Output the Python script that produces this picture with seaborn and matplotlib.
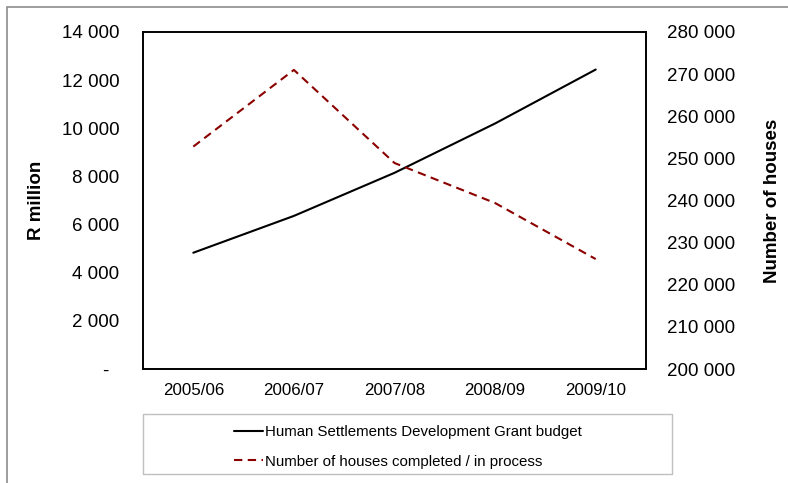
import numpy as np
import pandas as pd
import matplotlib
matplotlib.use('Agg')
import matplotlib.pyplot as plt
from matplotlib.patches import Rectangle
from matplotlib.ticker import FuncFormatter
import seaborn as sns

# Data
years = ['2005/06', '2006/07', '2007/08', '2008/09', '2009/10']
grant_budget = [4830, 6360, 8150, 10200, 12440]          # R million
houses = [252800, 271000, 248900, 239400, 226100]       # number of houses

df = pd.DataFrame({'Year': years, 'Budget': grant_budget, 'Houses': houses})
df['pos'] = np.arange(len(years))

sns.set_style('white')
plt.rcParams['font.family'] = ['Liberation Sans', 'DejaVu Sans']
plt.rcParams['text.color'] = 'black'
plt.rcParams['axes.labelcolor'] = 'black'
plt.rcParams['xtick.color'] = 'black'
plt.rcParams['ytick.color'] = 'black'

fig = plt.figure(figsize=(7.88, 4.83), dpi=100)
W, H = 788, 483
ax = fig.add_axes([143 / W, 1 - 369 / H, (646 - 143) / W, (369 - 32) / H])
ax2 = ax.twinx()

sns.lineplot(data=df, x='pos', y='Budget', ax=ax, color='black', linewidth=1.5,
             label='Human Settlements Development Grant budget', legend=False)
sns.lineplot(data=df, x='pos', y='Houses', ax=ax2, color='#8B0000', linewidth=1.5,
             dashes=False, label='Number of houses completed / in process', legend=False)
ax2.lines[0].set_dashes((4, 2.6))

ax.set_xlim(-0.5, len(years) - 0.5)
ax.set_xticks(df['pos'])
ax.set_xticklabels(years)
ax.set_ylim(0, 14000)
ax.set_yticks(np.arange(0, 14001, 2000))
ax2.set_ylim(200000, 280000)
ax2.set_yticks(np.arange(200000, 280001, 10000))


def space_fmt(v, pos):
    if v == 0:
        return '-  '
    return f'{int(v):,}'.replace(',', ' ')


ax.yaxis.set_major_formatter(FuncFormatter(space_fmt))
ax2.yaxis.set_major_formatter(FuncFormatter(space_fmt))

ax.tick_params(axis='y', length=0, pad=17, labelsize=13.5)
ax.tick_params(axis='x', length=0, pad=10, labelsize=12.2)
ax2.tick_params(axis='y', length=0, pad=15, labelsize=13.5)

ax.set_xlabel('')
ax.set_ylabel('R million', fontsize=13.5, fontweight='bold', labelpad=12)
ax2.set_ylabel('Number of houses', fontsize=13.5, fontweight='bold', labelpad=21)

for a in (ax, ax2):
    for s in a.spines.values():
        s.set_color('black')
        s.set_linewidth(1.2)

# Legend below, in its own gray box
handles = ax.get_lines()[:1] + ax2.get_lines()[:1]
labels = [h.get_label() for h in handles]
fig.patches.append(Rectangle((143 / W, 1 - 474 / H), (672 - 143) / W, 60 / H,
                             transform=fig.transFigure, fill=False,
                             edgecolor='#bfbfbf', linewidth=1))
fig.legend(handles, labels, loc='center', bbox_to_anchor=(408 / W, 1 - 447 / H),
           frameon=False, fontsize=10.85, handlelength=1.9, handletextpad=0.15,
           labelspacing=1.02)

# Outer chart border
fig.patches.append(Rectangle((7 / W, -0.02), 1.05, 1 - 7 / H + 0.02,
                             transform=fig.transFigure, fill=False,
                             edgecolor='#8c8c8c', linewidth=1.2))

fig.savefig('out.png', dpi=100)
